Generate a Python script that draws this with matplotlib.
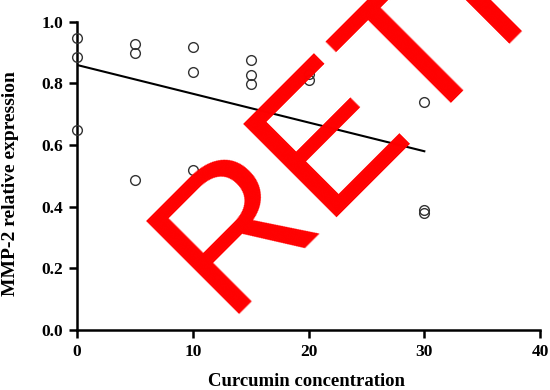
import matplotlib
matplotlib.use('Agg')
import matplotlib.pyplot as plt

# values
conc = [0, 0, 0, 5, 5, 5, 10, 10, 10, 15, 15, 15, 20, 20, 30, 30, 30]
mmp2 = [0.948, 0.886, 0.649, 0.929, 0.899, 0.487, 0.919, 0.838, 0.52,
        0.877, 0.828, 0.799, 0.83, 0.81, 0.74, 0.39, 0.38]
fit_x = [0, 30]
fit_y = [0.86, 0.58]
xticks = [0, 10, 20, 30, 40]
yticks = [0.0, 0.2, 0.4, 0.6, 0.8, 1.0]

plt.rcParams['font.family'] = 'Liberation Serif'
plt.rcParams['font.weight'] = 'bold'

fig = plt.figure(figsize=(5.5, 3.9), dpi=100)
ax = fig.add_axes([0.14, 0.154, 0.842, 0.79])

ax.plot(conc, mmp2, 'o', mfc='none', mec='#333333', ms=7, mew=1.0, clip_on=False, zorder=3)
ax.plot(fit_x, fit_y, color='black', lw=1.5)

ax.set_xlim(0, 40)
ax.set_ylim(0, 1.0)
ax.set_xticks(xticks)
ax.set_yticks(yticks)
ax.set_yticklabels([f'{v:.1f}' for v in yticks])
for s in ['top', 'right']:
    ax.spines[s].set_visible(False)
for s in ['left', 'bottom']:
    ax.spines[s].set_linewidth(1.8)
ax.tick_params(width=1.8, length=6, labelsize=12.5, pad=4)
for lab in ax.get_xticklabels() + ax.get_yticklabels():
    lab.set_fontweight('bold')

ax.set_xlabel('Curcumin concentration', fontsize=13.5, fontweight='bold', va='top')
ax.xaxis.set_label_coords(0.496, -0.14)
ax.set_ylabel('MMP-2 relative expression', fontsize=14, fontweight='bold')
ax.yaxis.set_label_coords(-0.125, 0.474)

# watermark
fig.text(224 / 550, 1 - 315 / 390, 'RETRACTED', color='red', fontsize=138,
         family='Liberation Sans', fontweight='normal', rotation=45,
         rotation_mode='anchor', ha='left', va='baseline', zorder=10)

fig.savefig('out.png', dpi=100)
